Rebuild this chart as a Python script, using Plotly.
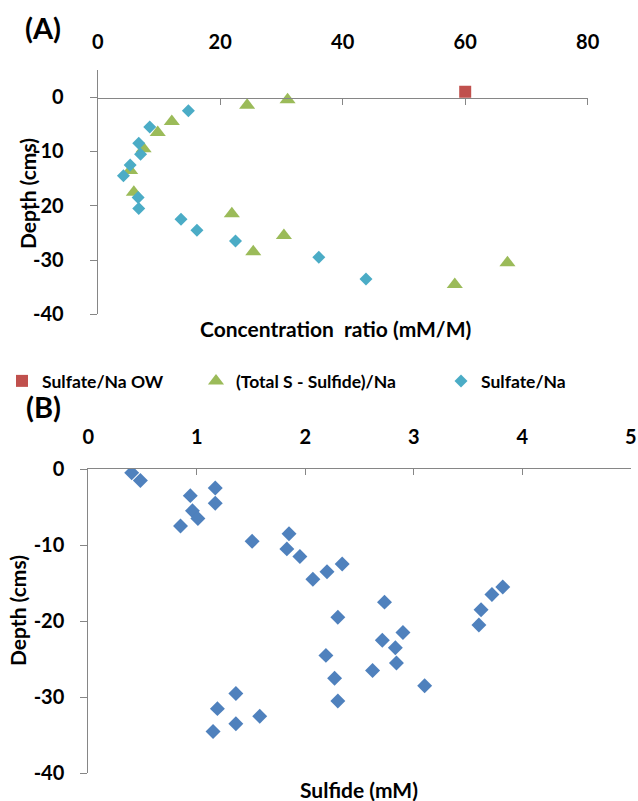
import plotly.graph_objects as go

# ---- panel A data: depth (cm) vs concentration ratio (mM/M)
ow_ratio = [60.0]
ow_depth = [1.0]

tot_ratio = [24.4, 31.0, 12.1, 9.8, 7.5, 5.3, 5.9, 21.9, 30.4, 25.4, 66.9, 58.3]
tot_depth = [-1.5, -0.5, -4.5, -6.5, -9.5, -13.5, -17.5, -21.5, -25.5, -28.5, -30.5, -34.5]

sul_ratio = [14.8, 8.5, 6.7, 7.0, 5.3, 4.2, 6.6, 6.7, 13.6, 16.2, 22.5, 36.1, 43.8]
sul_depth = [-2.5, -5.5, -8.5, -10.5, -12.5, -14.5, -18.5, -20.5, -22.5, -24.5, -26.5, -29.5, -33.5]

# ---- panel B data: depth (cm) vs sulfide (mM)
sulfide = [0.40, 0.48, 1.17, 0.94, 1.17, 0.96, 1.01, 0.85, 1.85, 1.51,
           1.83, 1.95, 2.34, 2.20, 2.07, 3.82, 3.72, 2.73, 3.62, 2.30,
           3.60, 2.90, 2.71, 2.83, 2.19, 2.84, 2.62, 2.27, 3.10, 1.36,
           2.30, 1.19, 1.58, 1.36, 1.15]
sulfide_depth = [-0.5, -1.5, -2.5, -3.5, -4.5, -5.5, -6.5, -7.5, -8.5, -9.5,
                 -10.5, -11.5, -12.5, -13.5, -14.5, -15.5, -16.5, -17.5, -18.5, -19.5,
                 -20.5, -21.5, -22.5, -23.5, -24.5, -25.5, -26.5, -27.5, -28.5, -29.5,
                 -30.5, -31.5, -32.5, -33.5, -34.5]

# tick labels (Excel style hyphen minus)
depth_ticks = [0, -10, -20, -30, -40]
depth_labels = ["0", "-10", "-20", "-30", "-40"]

FONT = "Lato"
AXIS_GREY = "#868686"
W, H = 638, 801

fig = go.Figure()

fig.add_trace(go.Scatter(
    x=ow_ratio, y=ow_depth, mode="markers", name="Sulfate/Na OW",
    xaxis="x3", yaxis="y", legend="legend",
    marker=dict(symbol="square", size=12, color="#C0504D"),
))
fig.add_trace(go.Scatter(
    x=tot_ratio, y=tot_depth, mode="markers", name="(Total S - Sulfide)/Na",
    xaxis="x", yaxis="y", legend="legend2",
    marker=dict(symbol="triangle-up", size=14, color="#9BBB59"),
))
fig.add_trace(go.Scatter(
    x=sul_ratio, y=sul_depth, mode="markers", name="Sulfate/Na",
    xaxis="x", yaxis="y", legend="legend3",
    marker=dict(symbol="diamond", size=10, color="#4BACC6"),
))
fig.add_trace(go.Scatter(
    x=sulfide, y=sulfide_depth, mode="markers", name="Sulfide",
    xaxis="x2", yaxis="y2", showlegend=False,
    marker=dict(symbol="diamond", size=11.5, color="#4F81BD"),
))

tick_font = dict(family=FONT, size=20, color="black", weight="bold")
legend_font = dict(family=FONT, size=17.5, color="black", weight="bold")


def legend_at(x_px):
    return dict(orientation="h", x=x_px / W, y=1 - 381 / H, yanchor="middle",
                xanchor="left", font=legend_font, itemwidth=30,
                bgcolor="rgba(0,0,0,0)")


fig.update_layout(
    width=W, height=H,
    margin=dict(l=0, r=0, t=0, b=0),
    paper_bgcolor="white", plot_bgcolor="white",
    font=dict(family=FONT, color="black"),
    showlegend=True,
    legend=legend_at(2),
    legend2=legend_at(196),
    legend3=legend_at(441),
    # panel A: labels on top, the visible line sits at depth 0
    xaxis=dict(
        domain=[97.7 / W, 587.7 / W], anchor="y", side="top", automargin=False,
        range=[0, 80], dtick=20, showline=False, showgrid=False, zeroline=False,
        ticks="", ticklabelstandoff=16, tickfont=tick_font,
    ),
    xaxis3=dict(
        matches="x", overlaying="x", anchor="free", position=1 - 97.7 / H,
        automargin=False,
        range=[0, 80], dtick=20, showline=True, linecolor=AXIS_GREY, linewidth=1,
        ticks="outside", ticklen=6, tickcolor=AXIS_GREY, showticklabels=False,
        showgrid=False, zeroline=False,
    ),
    yaxis=dict(
        domain=[1 - 314.3 / H, 1 - 70 / H], anchor="x", automargin=False,
        range=[-40, 5], tickvals=depth_ticks, ticktext=depth_labels,
        showline=True, linecolor=AXIS_GREY, linewidth=1,
        ticks="outside", ticklen=7, tickcolor=AXIS_GREY,
        showgrid=False, zeroline=False, tickfont=tick_font, ticklabelstandoff=22,
    ),
    # panel B
    xaxis2=dict(
        domain=[88.3 / W, 630.8 / W], anchor="y2", side="top", automargin=False,
        range=[0, 5], dtick=1, showline=True, linecolor=AXIS_GREY, linewidth=1,
        ticks="inside", ticklen=6, tickcolor=AXIS_GREY,
        showgrid=False, zeroline=False, tickfont=tick_font, ticklabelstandoff=16,
    ),
    yaxis2=dict(
        domain=[1 - 773.3 / H, 1 - 469 / H], anchor="x2", automargin=False,
        range=[-40, 0], tickvals=depth_ticks, ticktext=depth_labels,
        showline=True, linecolor=AXIS_GREY, linewidth=1,
        ticks="outside", ticklen=7, tickcolor=AXIS_GREY,
        showgrid=False, zeroline=False, tickfont=tick_font, ticklabelstandoff=12,
    ),
)

title_font = dict(family=FONT, size=21, color="black", weight="bold")
notes = [
    dict(text="(A)", x=43 / W, y=1 - 28 / H, font=dict(family=FONT, size=29, color="black", weight="bold")),
    dict(text="(B)", x=43 / W, y=1 - 406 / H, font=dict(family=FONT, size=29, color="black", weight="bold")),
    dict(text="Concentration&nbsp; ratio (mM/M)", x=335 / W, y=1 - 328 / H, font=title_font),
    dict(text="Sulfide (mM)", x=359 / W, y=1 - 789 / H, font=title_font),
    dict(text="Depth (cms)", x=27 / W, y=1 - 194 / H, textangle=-90, font=title_font),
    dict(text="Depth (cms)", x=17 / W, y=1 - 611 / H, textangle=-90, font=title_font),
]
for n in notes:
    fig.add_annotation(xref="paper", yref="paper", showarrow=False,
                       xanchor="center", yanchor="middle", **n)

# drop the default page margin so the figure sits at the window's corner
fig.write_html("out.html", config={"displayModeBar": False},
               post_script="document.body.style.margin = '0px';")
